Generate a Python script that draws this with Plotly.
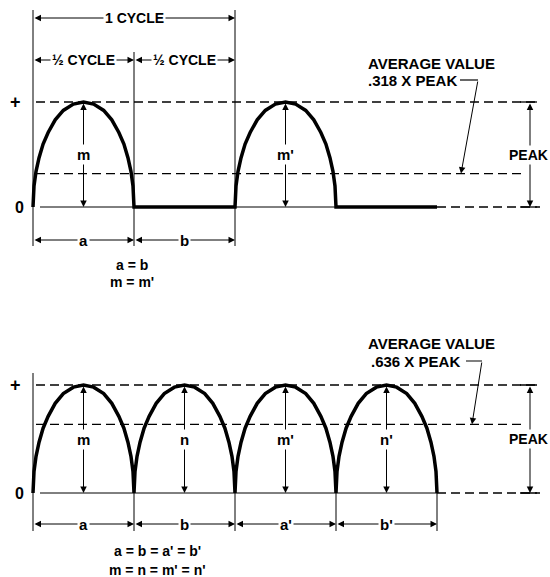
import plotly.graph_objects as go

# ---------------- data ----------------
# one arch of the rectified wave: position within a half-cycle, height as fraction of peak
arch_pos = [0, 0.01, 0.03, 0.06, 0.10, 0.15, 0.22, 0.30, 0.40, 0.50,
            0.60, 0.70, 0.78, 0.85, 0.90, 0.94, 0.97, 0.99, 1.0]
arch_h = [0, 0.20, 0.34, 0.47, 0.60, 0.71, 0.83, 0.92, 0.98, 1.0,
          0.98, 0.92, 0.83, 0.71, 0.60, 0.47, 0.34, 0.20, 0]

half_wave_arches = [0, 2]          # half-cycles that carry a pulse (top)
half_wave_flats = [[1, 2], [3, 4]]  # half-cycles at zero (top)
full_wave_arches = [0, 1, 2, 3]    # bottom

peak = 1.0
avg_half = 0.318   # average value, half-wave
avg_full = 0.636   # average value, full-wave

top_arch_labels = ["m", "m'"]
top_dim_labels = ["a", "b"]
bot_arch_labels = ["m", "n", "m'", "n'"]
bot_dim_labels = ["a", "b", "a'", "b'"]

top_equations = ["a = b", "m = m'"]
bot_equations = ["a = b = a' = b'", "m = n = m' = n'"]
avg_text_top = ["AVERAGE VALUE", ".318 X PEAK"]
avg_text_bot = ["AVERAGE VALUE", ".636 X PEAK"]

# ---------------- layout calibration ----------------
W, H = 550, 577
X0_PX, HC_PX = 33, 101            # pixel of x=0, pixels per half-cycle
TOP_ZERO, TOP_PEAK = 207, 102
BOT_ZERO, BOT_PEAK = 493, 385


def xp(p):
    return (p - X0_PX) / HC_PX


def yt(p):
    return (TOP_ZERO - p) / (TOP_ZERO - TOP_PEAK)


def yb(p):
    return (BOT_ZERO - p) / (BOT_ZERO - BOT_PEAK)


x_range = [xp(0), xp(W)]
top_range = [yt(H / 2), yt(0)]
bot_range = [yb(H), yb(H / 2)]

FONT = dict(family="Liberation Sans", size=14, color="black", weight="bold")
DASH = "9px,5px"

fig = go.Figure()


def line(xs, ys, ax, width=1.0, dash="solid"):
    fig.add_trace(go.Scatter(
        x=xs, y=ys, mode="lines", xaxis="x" if ax == 1 else "x2",
        yaxis="y" if ax == 1 else "y2",
        line=dict(color="black", width=width, dash=dash),
        hoverinfo="skip", showlegend=False))


# ----- waveform traces -----
# top: half-wave
wx, wy = [], []
for start in half_wave_arches:
    wx += [start + p for p in arch_pos]
    wy += [h * peak for h in arch_h]
    for f in half_wave_flats:
        if f[0] == start + 1:
            wx += [f[0], f[1]]
            wy += [0, 0]
# bottom: full wave
fx, fy = [], []
for start in full_wave_arches:
    fx += [start + p for p in arch_pos]
    fy += [h * peak for h in arch_h]

# reference lines top
line([xp(36), xp(536)], [peak, peak], 1, 1.3, DASH)
line([xp(36), xp(521)], [avg_half, avg_half], 1, 1.3, DASH)
line([xp(40), 4], [0, 0], 1, 1.0)
line([4, xp(540)], [0, 0], 1, 1.3, DASH)
# reference lines bottom
line([xp(36), xp(536)], [peak, peak], 2, 1.3, DASH)
line([xp(36), xp(521)], [avg_full, avg_full], 2, 1.3, DASH)
line([xp(40), 4], [0, 0], 2, 1.0)
line([4, xp(540)], [0, 0], 2, 1.3, DASH)

# extension lines top
line([0, 0], [yt(10), yt(246)], 1, 1.0)
line([1, 1], [yt(52), yt(246)], 1, 1.0)
line([2, 2], [yt(10), yt(246)], 1, 1.0)
# extension lines bottom
line([0, 0], [yb(373), yb(531)], 2, 1.0)
for k in range(1, 5):
    line([k, k], [0, yb(531)], 2, 1.0)

# peak ticks
for ax_i in (1, 2):
    line([xp(520), xp(537)], [peak, peak], ax_i, 1.3)
    line([xp(520), xp(537)], [0, 0], ax_i, 1.3)

# leaders (horizontal parts)
line([xp(460), xp(478)], [yt(80), yt(80)], 1, 1.2)
line([xp(466), xp(482)], [yb(361), yb(361)], 2, 1.2)

# waveforms
line(wx, wy, 1, 3.5)
line(fx, fy, 2, 3.5)

ann = []


def arrow(x0, y0, x1, y1, ax, both=True):
    xr = "x" if ax == 1 else "x2"
    yr = "y" if ax == 1 else "y2"
    ann.append(dict(x=x1, y=y1, ax=x0, ay=y0, xref=xr, yref=yr, axref=xr, ayref=yr,
                    text="", showarrow=True, arrowhead=2, arrowsize=1.3, arrowwidth=1.0,
                    arrowside="end+start" if both else "end", arrowcolor="black",
                    standoff=0, startstandoff=0))


def label(x, y, txt, ax, size=14, bg="white", xanchor="center"):
    xr = "x" if ax == 1 else "x2"
    yr = "y" if ax == 1 else "y2"
    f = dict(FONT)
    f["size"] = size
    ann.append(dict(x=x, y=y, xref=xr, yref=yr, text=txt, showarrow=False,
                    font=f, bgcolor=bg, borderpad=1, xanchor=xanchor, yanchor="middle"))


# ---- top diagram arrows ----
arrow(0, yt(18), 2, yt(18), 1)
arrow(0, yt(60), 1, yt(60), 1)
arrow(1, yt(60), 2, yt(60), 1)
for i, s in enumerate(half_wave_arches):
    arrow(s + 0.5, peak, s + 0.5, 0, 1)
for i in range(2):
    arrow(i, yt(240), i + 1, yt(240), 1)
arrow(xp(530), peak, xp(530), 0, 1)
arrow(xp(478), yt(80), xp(461), avg_half, 1, both=False)

# ---- bottom diagram arrows ----
for s in full_wave_arches:
    arrow(s + 0.5, peak, s + 0.5, 0, 2)
    arrow(s, yb(524), s + 1, yb(524), 2)
arrow(xp(530), peak, xp(530), 0, 2)
arrow(xp(482), yb(361), xp(472), avg_full, 2, both=False)

# ---- top labels ----
label(1, yt(18), "1 CYCLE", 1)
label(0.5, yt(60), "½ CYCLE", 1)
label(1.5, yt(60), "½ CYCLE", 1)
label(xp(15), peak, "+", 1, size=18, bg=None)
label(xp(19), 0, "0", 1, size=16, bg=None)
for s, t in zip(half_wave_arches, top_arch_labels):
    label(s + 0.5, 0.5 * peak, t, 1, size=15)
for i, t in enumerate(top_dim_labels):
    label(i + 0.5, yt(240), t, 1, size=15)
label(xp(132), yt(265), top_equations[0], 1, size=14, bg=None)
label(xp(132), yt(282), top_equations[1], 1, size=14, bg=None)
label(xp(431), yt(63), avg_text_top[0], 1, size=15, bg=None)
label(xp(412), yt(80), avg_text_top[1], 1, size=15, bg=None)
label(xp(507), 0.5 * peak, "PEAK", 1, size=14, xanchor="left")

# ---- bottom labels ----
label(xp(15), peak, "+", 2, size=18, bg=None)
label(xp(19), 0, "0", 2, size=16, bg=None)
for s, t in zip(full_wave_arches, bot_arch_labels):
    label(s + 0.5, 0.5 * peak, t, 2, size=15)
for s, t in zip(full_wave_arches, bot_dim_labels):
    label(s + 0.5, yb(524), t, 2, size=15)
label(xp(157), yb(551), bot_equations[0], 2, size=14, bg=None)
label(xp(157), yb(570), bot_equations[1], 2, size=14, bg=None)
label(xp(431), yb(343), avg_text_bot[0], 2, size=15, bg=None)
label(xp(415), yb(361), avg_text_bot[1], 2, size=15, bg=None)
label(xp(507), 0.5 * peak, "PEAK", 2, size=14, xanchor="left")

ax_common = dict(visible=False, showgrid=False, zeroline=False, fixedrange=True)
fig.update_layout(
    width=W, height=H, margin=dict(l=0, r=0, t=0, b=0),
    paper_bgcolor="white", plot_bgcolor="white", showlegend=False,
    xaxis=dict(range=x_range, domain=[0, 1], anchor="y", **ax_common),
    yaxis=dict(range=top_range, domain=[0.5, 1], anchor="x", **ax_common),
    xaxis2=dict(range=x_range, domain=[0, 1], anchor="y2", **ax_common),
    yaxis2=dict(range=bot_range, domain=[0, 0.5], anchor="x2", **ax_common),
    annotations=ann,
)

fig.write_html("out.html", config={"displayModeBar": False, "staticPlot": True},
               post_script="document.body.style.margin='0px';document.body.style.overflow='hidden';")
